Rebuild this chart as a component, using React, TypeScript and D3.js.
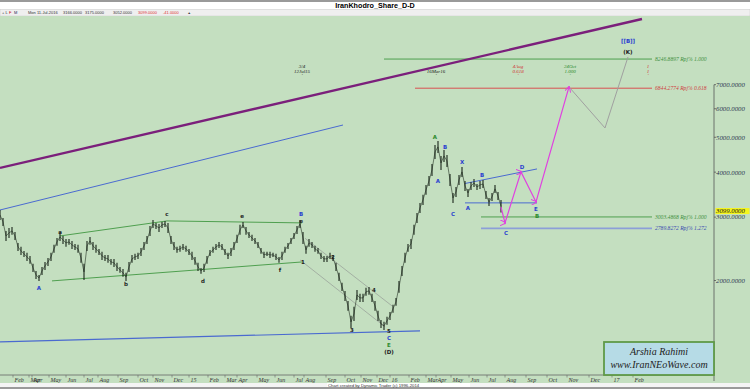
import React from 'react';
import * as d3 from 'd3';

const W = 750;
const H = 389;
const PLOT_TOP = 16;
const PLOT_BOTTOM = 383;
const AXIS_X = 714;
const AXIS_Y = 375;
const BAR_STEP = 3; // one bar drawn every 3 sessions

// daily bars (sampled), highs and lows
const highs = [
  3140, 2985, 2746, 2800, 2818, 2729, 2544, 2480, 2417, 2387,
  2341, 2225, 2127, 2073, 2182, 2253, 2311, 2387, 2512, 2626,
  2712, 2660, 2609, 2609, 2576, 2528, 2512, 2387, 2225, 2576,
  2643, 2560, 2512, 2448, 2402, 2356, 2356, 2296, 2296, 2239,
  2182, 2154, 2100, 2253, 2356, 2372, 2387, 2464, 2560, 2660,
  2836, 2946, 2891, 2873, 2909, 2928, 2891, 2660, 2560, 2480,
  2496, 2528, 2496, 2448, 2402, 2326, 2239, 2168, 2225, 2341,
  2432, 2480, 2528, 2560, 2528, 2448, 2387, 2464, 2560, 2678,
  2855, 2909, 2818, 2729, 2678, 2626, 2560, 2464, 2402, 2402,
  2402, 2387, 2372, 2326, 2402, 2480, 2544, 2626, 2712, 2836,
  2946, 2729, 2496, 2609, 2560, 2496, 2464, 2387, 2341, 2341,
  2387, 2356, 2239, 2100, 1970, 1871, 1755, 1595, 1690, 1883,
  1836, 1836, 1908, 1920, 1836, 1755, 1647, 1554, 1535, 1585,
  1636, 1712, 1789, 1995, 2196, 2387, 2528, 2609, 2855, 3082,
  3286, 3459, 3687, 3905, 4217, 4762, 4884, 4438, 4610, 4467,
  3955, 3503, 3640, 3930, 4136, 3781, 3593, 3758, 3830, 3710,
  3781, 3805, 3547, 3392, 3503, 3687, 3525, 3348,
];
const lows = [
  2946, 2836, 2576, 2626, 2678, 2592, 2417, 2356, 2326, 2267,
  2225, 2113, 2020, 1995, 2073, 2140, 2196, 2267, 2387, 2496,
  2576, 2528, 2480, 2512, 2448, 2432, 2387, 2239, 2007, 2417,
  2512, 2432, 2387, 2356, 2281, 2267, 2239, 2211, 2182, 2127,
  2100, 2047, 1995, 2113, 2239, 2281, 2296, 2341, 2432, 2528,
  2660, 2800, 2781, 2729, 2800, 2818, 2712, 2528, 2432, 2387,
  2402, 2432, 2402, 2356, 2281, 2211, 2127, 2087, 2113, 2225,
  2341, 2387, 2432, 2464, 2432, 2356, 2296, 2341, 2432, 2544,
  2678, 2800, 2678, 2626, 2576, 2528, 2464, 2372, 2311, 2341,
  2311, 2326, 2281, 2239, 2281, 2387, 2448, 2528, 2609, 2695,
  2800, 2528, 2372, 2480, 2464, 2402, 2372, 2296, 2253, 2253,
  2296, 2267, 2127, 1995, 1871, 1755, 1647, 1477, 1544, 1766,
  1744, 1744, 1813, 1825, 1744, 1647, 1544, 1477, 1458, 1506,
  1554, 1626, 1701, 1848, 2060, 2239, 2402, 2448, 2678, 2891,
  3082, 3244, 3459, 3663, 3905, 4353, 4524, 4056, 4270, 4136,
  3663, 3286, 3414, 3687, 3880, 3547, 3414, 3569, 3640, 3569,
  3593, 3616, 3370, 3223, 3327, 3503, 3348, 3090,
];

const monthLabels = [
  'Feb', 'Mar', 'Apr', 'May', 'Jun', 'Jul', 'Aug', 'Sep', 'Oct', 'Nov', 'Dec', '15',
  'Feb', 'Mar', 'Apr', 'May', 'Jun', 'Jul', 'Aug', 'Sep', 'Oct', 'Nov', 'Dec', '16',
  'Feb', 'Mar', 'Apr', 'May', 'Jun', 'Jul', 'Aug', 'Sep', 'Oct', 'Nov', 'Dec', '17', 'Feb',
];
const monthStarts = [
  13, 29, 32, 49, 66, 84, 98, 118, 138, 153, 172, 189,
  208, 225, 237, 257, 275, 294, 304, 326, 345, 361, 377, 390,
  409, 426, 436, 451, 469, 487, 505, 526, 547, 567, 589, 612, 633,
];

const priceTicks = [2000, 3000, 4000, 5000, 6000, 7000];
const lastClose = 3099;

const fibPrices = [8246.8897, 6844.2774, 3003.4868, 2789.8272];
const fibRatios = ['1.000', '0.618', '1.000', '1.272'];
const fibStarts = [384, 415, 481, 481];
const fibEnd = 652;

// trend lines [session, price]
const purpleLine = [[0, 4110], [642, 10655]];
const blueUpper = [[0, 3140], [343, 5408]];
const blueBase = [[0, 1350], [420, 1449]];
const greenTop = [[60, 2660], [167, 2928], [302, 2891]];
const greenBottom = [[52, 1995], [303, 2253]];
const grayChanTop = [[305, 2620], [392, 1700]];
const grayChanBottom = [[300, 2281], [385, 1487]];
const triTop = [[465, 3720], [537, 4083]];
const triBottom = [[465, 3286], [537, 3286]];
const projMagenta = [[501, 3200], [505, 2891], [521, 4006], [536, 3306], [569, 6900]];
const projGray = [[569, 6900], [605, 5306], [628, 8358]];

// wave labels [session, price, text, kind]
const waveLabels = [
  [39, 1908, 'A', 'blue'], [60, 2729, 'a', 'dark'], [126, 1958, 'b', 'dark'],
  [167, 3063, 'c', 'dark'], [203, 1995, 'd', 'dark'], [242, 3022, 'e', 'dark'],
  [280, 2140, 'f', 'dark'], [301, 3063, 'B', 'blue'], [301, 2928, 'e', 'dark'],
  [303, 2253, '1', 'dark'], [333, 2326, '2', 'dark'], [352, 1458, '3', 'dark'],
  [374, 1883, '4', 'dark'], [389, 1449, '5', 'dark'],
  [389, 1386, 'C', 'blue'], [389, 1323, 'E', 'green'], [389, 1266, '(D)', 'dark'],
  [435, 5004, 'A', 'green'], [445, 4701, 'B', 'blue'], [438, 3781, 'A', 'blue'],
  [462, 4270, 'X', 'blue'], [453, 3063, 'C', 'blue'], [482, 3930, 'B', 'blue'],
  [468, 3180, 'A', 'blue'], [522, 4136, 'D', 'blue'], [536, 3160, 'E', 'blue'],
  [537, 3022, 'B', 'green'], [506, 2712, 'C', 'blue'],
  [628, 9250, '[[B]]', 'blue'], [628, 8625, '(K)', 'dark'],
];

// time projection marks [session, line1, line2, kind]
const timeMarks = [
  [302, '3/4', '12Jul15', 'dark'],
  [436, '', '16Mar16', 'dark'],
  [518, '4Aug', '0.618', 'red'],
  [570, '24Oct', '1.000', 'green'],
  [648, '1', '1', 'red'],
];

const colors = {
  blue: '#2b3fd0',
  dark: '#222',
  green: '#2e8b2e',
  red: '#d03030',
};
const fibColors = ['#4f9f4f', '#d85050', '#4f9f4f', '#8c9fd8'];
const fibTextColors = ['#3f8f3f', '#d04040', '#3f8f3f', '#3a4ab0'];

const x = d3.scaleLinear().domain([0, AXIS_X]).range([0, AXIS_X]);
const y = d3.scaleLog().domain([2000, 8000]).range([280.5, 63.8]);

const line = d3.line<number[]>().x(d => x(d[0])).y(d => y(d[1]));

export default function App() {
  return (
    <svg width={W} height={H} style={{ position: 'fixed', left: 0, top: 0, display: 'block' }}>
      <defs>
        <marker id="arrM" viewBox="0 0 6 6" refX="5" refY="3" markerWidth="5" markerHeight="5" orient="auto">
          <path d="M0,0 L6,3 L0,6" fill="none" stroke="#e040e0" strokeWidth="1" />
        </marker>
        <clipPath id="plot">
          <rect x={0} y={PLOT_TOP} width={AXIS_X} height={AXIS_Y - PLOT_TOP} />
        </clipPath>
      </defs>
      <rect width={W} height={H} fill="#fff" />
      <rect x={0} y={0} width={W} height={2} fill="#9a9a9a" />
      <text x={375} y={8.2} textAnchor="middle" fontFamily="Liberation Sans, Arial" fontWeight="bold" fontSize={7.2} fill="#000">
        IranKhodro_Share_D-D
      </text>
      <rect x={0} y={9.5} width={W} height={6.5} fill="#efefef" stroke="#c8c8c8" strokeWidth={0.5} />
      <text y={14.4} fontFamily="Liberation Sans, Arial" fontSize={4} fill="#333">
        <tspan x={2}>+ L</tspan>
        <tspan x={9} fill="#c00">F</tspan>
        <tspan x={14} fill="#225">M</tspan>
        <tspan x={28}>Mon 11-Jul-2016</tspan>
        <tspan x={63}>3166.0000</tspan>
        <tspan x={85}>3175.0000</tspan>
        <tspan x={113}>3052.0000</tspan>
        <tspan x={138} fill="#e03030">3099.0000</tspan>
        <tspan x={163} fill="#e03030">-41.0000</tspan>
        <tspan x={188} fontWeight="bold" fill="#000">+</tspan>
      </text>
      <rect x={0} y={PLOT_TOP} width={W} height={PLOT_BOTTOM - PLOT_TOP} fill="#c4dfc0" />
      <rect x={0} y={PLOT_BOTTOM} width={W} height={4} fill="#f4f4f4" />
      <rect x={0} y={387} width={W} height={2} fill="#9a9a9a" />

      <g clipPath="url(#plot)">
        {/* trend lines */}
        <path d={line(blueUpper as number[][])!} stroke="#4a6ad0" strokeWidth={1} fill="none" />
        <path d={line(blueBase as number[][])!} stroke="#4a6ad0" strokeWidth={1.2} fill="none" />
        <path d={line(greenTop as number[][])!} stroke="#4f9f4f" strokeWidth={1} fill="none" />
        <path d={line(greenBottom as number[][])!} stroke="#4f9f4f" strokeWidth={1} fill="none" />
        <path d={line(grayChanTop as number[][])!} stroke="#9aa39a" strokeWidth={0.8} fill="none" />
        <path d={line(grayChanBottom as number[][])!} stroke="#9aa39a" strokeWidth={0.8} fill="none" />
        <path d={line(triTop as number[][])!} stroke="#4a6ad0" strokeWidth={1} fill="none" />
        <path d={line(triBottom as number[][])!} stroke="#4a6ad0" strokeWidth={1} fill="none" />

        {fibPrices.map((p, i) => (
          <line key={'f' + i} x1={x(fibStarts[i])} x2={x(fibEnd)} y1={y(p)} y2={y(p)}
            stroke={fibColors[i]} strokeWidth={i === 3 ? 1.8 : 1} />
        ))}

        {/* price bars */}
        {highs.map((h, i) => (
          <line key={'b' + i} x1={x(i * BAR_STEP)} x2={x(i * BAR_STEP)} y1={y(h)} y2={y(lows[i])}
            stroke="#1a261a" strokeWidth={1.1} />
        ))}
        <path d={d3.line<number>().x((_, i) => x(i * BAR_STEP)).y((h, i) => y(Math.sqrt(h * lows[i])))(highs)!}
          stroke="#1a261a" strokeWidth={0.7} fill="none" opacity={0.8} />

        <path d={line(purpleLine as number[][])!} stroke="#7b1f7b" strokeWidth={2.4} fill="none" />

        <path d={line(projGray as number[][])!} stroke="#a0a0a0" strokeWidth={1} fill="none" />
        <path d={line(projMagenta as number[][])!} stroke="#e040e0" strokeWidth={1.2} fill="none"
          markerMid="url(#arrM)" markerEnd="url(#arrM)" />

        {timeMarks.map((m, i) => (
          <g key={'t' + i} fontFamily="Liberation Serif, serif" fontStyle="italic" fontSize={5}
            fill={colors[m[3] as keyof typeof colors]} textAnchor="middle">
            <text x={x(m[0] as number)} y={68}>{m[1]}</text>
            <text x={x(m[0] as number)} y={73}>{m[2]}</text>
            <text x={x(m[0] as number)} y={77}>'</text>
          </g>
        ))}

        {waveLabels.map((l, i) => (
          <text key={'w' + i} x={x(l[0] as number)} y={y(l[1] as number)} dy="0.35em" textAnchor="middle"
            fontFamily="DejaVu Sans, sans-serif" fontWeight="bold" fontSize={5.5}
            fill={colors[l[3] as keyof typeof colors]}>{l[2]}</text>
        ))}
      </g>

      {fibPrices.map((p, i) => (
        <text key={'fl' + i} x={x(fibEnd) + 3} y={y(p)} dy="0.35em" fontFamily="Liberation Serif, serif"
          fontStyle="italic" fontSize={5.6} fill={fibTextColors[i]}>
          {p.toFixed(4)} Rpj% {fibRatios[i]}
        </text>
      ))}

      {/* price axis */}
      <line x1={AXIS_X} x2={AXIS_X} y1={y(7000)} y2={AXIS_Y + 6} stroke="#555" strokeWidth={0.8} />
      {priceTicks.map(t => (
        <g key={t}>
          <line x1={AXIS_X} x2={AXIS_X + 2} y1={y(t)} y2={y(t)} stroke="#555" strokeWidth={0.8} />
          <text x={AXIS_X + 2} y={y(t)} dy="0.35em" fontFamily="Liberation Serif, serif" fontStyle="italic"
            fontSize={6.8} fill="#2c3550">{t.toFixed(4)}</text>
        </g>
      ))}
      <rect x={AXIS_X + 1.5} y={y(lastClose) - 4} width={34} height={6} fill="#f5f51e" />
      <text x={AXIS_X + 2} y={y(lastClose) - 1} dy="0.35em" fontFamily="Liberation Serif, serif" fontStyle="italic"
        fontSize={6.8} fill="#111">{lastClose.toFixed(4)}</text>

      {/* time axis */}
      <line x1={0} x2={AXIS_X} y1={AXIS_Y} y2={AXIS_Y} stroke="#666" strokeWidth={0.8} />
      {monthStarts.map((s, i) => (
        <g key={'m' + i}>
          <line x1={x(s)} x2={x(s)} y1={AXIS_Y} y2={AXIS_Y + 2.5} stroke="#666" strokeWidth={0.6} />
          <text x={x(s) + 1.5} y={382} fontFamily="Liberation Serif, serif" fontStyle="italic" fontSize={6}
            fill="#333">{monthLabels[i]}</text>
        </g>
      ))}
      <rect x={327} y={383} width={143} height={4} fill="#fff" />
      <text x={328} y={386.6} fontFamily="Liberation Sans, Arial" fontSize={4.3} fill="#333">
        Chart created by Dynamic Trader  (c) 1996-2014
      </text>

      {/* signature box */}
      <rect x={604} y={342} width={110} height={33} fill="#b6dbe6" stroke="#5f9a48" strokeWidth={1.8} />
      <text x={659} y={355} textAnchor="middle" fontFamily="Liberation Serif, serif" fontStyle="italic"
        fontSize={10} fill="#222">Arshia Rahimi</text>
      <text x={659} y={368} textAnchor="middle" fontFamily="Liberation Serif, serif" fontStyle="italic"
        fontSize={10} fill="#222">www.IranNEoWave.com</text>
    </svg>
  );
}
